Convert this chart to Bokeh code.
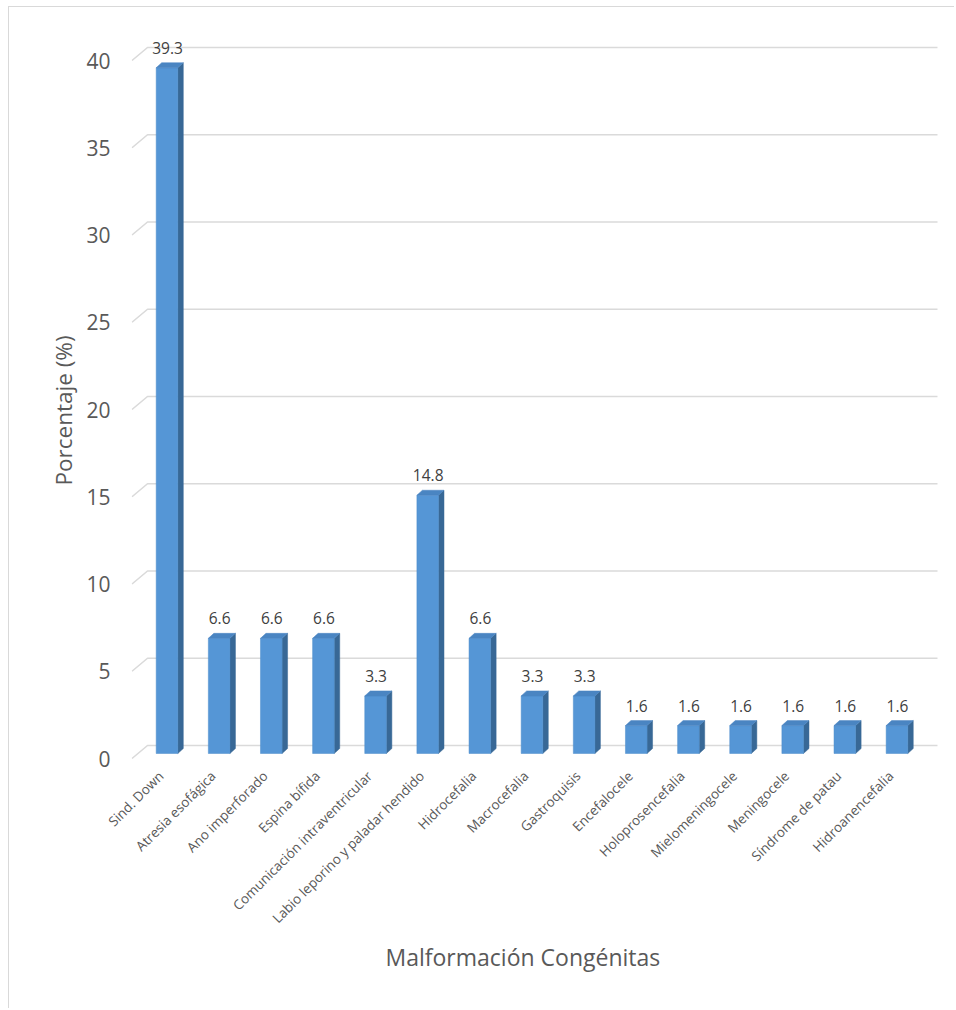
import math
from bokeh.plotting import figure
from bokeh.models import FixedTicker, Title, Range1d
from bokeh.embed import file_html
from bokeh.resources import INLINE
from bokeh.core.properties import value

# ---------------- data ----------------
categories = [
    "Sind. Down", "Atresia esofágica", "Ano imperforado", "Espina bífida",
    "Comunicación intraventricular", "Labio leporino y paladar hendido",
    "Hidrocefalia", "Macrocefalia", "Gastroquisis", "Encefalocele",
    "Holoprosencefalia", "Mielomeningocele", "Meningocele",
    "Síndrome de patau", "Hidroanencefalia",
]
values = [39.3, 6.6, 6.6, 6.6, 3.3, 14.8, 6.6, 3.3, 3.3, 1.6, 1.6, 1.6, 1.6, 1.6, 1.6]
y_ticks = [0, 5, 10, 15, 20, 25, 30, 35, 40]
x_title = "Malformación Congénitas"
y_title = "Porcentaje (%)"

# ---------------- layout (page pixels) ----------------
OX, OY = 9, 7            # figure offset (margin + border)
W, H = 946, 1002
FL, FR, FT, FB = 131, 945, 20, 770   # frame edges on page
X0, PXX = 166.5, 52.14   # page x of first category, px per category
Y0, PXY = 758.0, 17.45   # page y of value 0, px per unit

x_start = (FL - X0) / PXX
x_end = (FR - X0) / PXX
y_start = -(FB - Y0) / PXY
y_end = y_start + (FB - FT) / PXY

FONT = "Open Sans"
TXT = "#595959"

p = figure(
    width=W, height=H,
    x_range=Range1d(x_start, x_end), y_range=Range1d(y_start, y_end),
    output_backend="svg", toolbar_location=None,
    min_border_left=FL - OX, min_border_right=W - (FR - OX),
    min_border_top=FT - OY, min_border_bottom=H - (FB - OY),
    styles={"margin-left": "8px", "margin-top": "6px",
            "border-left": "1px solid #d9d9d9", "border-top": "1px solid #d9d9d9"},
)
p.outline_line_color = None
p.grid.visible = False
p.background_fill_color = "white"
p.border_fill_color = "white"

# ---------------- back-wall gridlines (3D) ----------------
dxg = 16 / PXX
dyg = 13 / PXY
x_back_end = (937 - X0) / PXX
p.multi_line(
    xs=[[x_start + 0.5 / PXX, x_start + dxg, x_back_end] for t in y_ticks],
    ys=[[t, t + dyg, t + dyg] for t in y_ticks],
    line_color="#dadada", line_width=1.6,
)

# ---------------- 3D bars ----------------
hw = 10.8 / PXX
base = 5 / PXY
ddx = 5.5 / PXX
ddy = 5 / PXY
idx = list(range(len(categories)))

side_xs, side_ys, top_xs, top_ys = [], [], [], []
for i, v in zip(idx, values):
    side_xs.append([i + hw, i + hw + ddx, i + hw + ddx, i + hw])
    side_ys.append([base, base + ddy, v + base + ddy, v + base])
    top_xs.append([i - hw, i - hw + ddx, i + hw + ddx, i + hw])
    top_ys.append([v + base, v + base + ddy, v + base + ddy, v + base])

p.patches(side_xs, side_ys, fill_color="#386896", line_color="#386896", line_width=0.5)
p.quad(left=[i - hw for i in idx], right=[i + hw for i in idx],
       bottom=[base] * len(idx), top=[v + base for v in values],
       fill_color="#5596d6", line_color="#4d8cca", line_width=0.5)
p.patches(top_xs, top_ys, fill_color="#4a85c2", line_color="#4a85c2", line_width=0.5)

# ---------------- data labels ----------------
p.text(x=[i + 0.5 / PXX for i in idx], y=[v + base + ddy for v in values],
       text=[f"{v:.1f}" for v in values],
       text_align="center", text_baseline="bottom", y_offset=-9,
       text_font=value(FONT), text_font_size="15.5px", text_color="#404040")

# ---------------- axes ----------------
# category ticks sit slightly left of the bar centres (label anchor)
tick_pos = [i - 6 / PXX for i in idx]
p.xaxis.ticker = FixedTicker(ticks=tick_pos)
p.xaxis.major_label_overrides = {t: c for t, c in zip(tick_pos, categories)}
p.xaxis.major_label_orientation = math.pi / 4
p.xaxis.major_label_text_font = FONT
p.xaxis.major_label_text_font_size = "13.5px"
p.xaxis.major_label_text_color = TXT
p.xaxis.major_label_standoff = -3

p.yaxis.ticker = FixedTicker(ticks=y_ticks)
p.yaxis.major_label_text_font = FONT
p.yaxis.major_label_text_font_size = "21px"
p.yaxis.major_label_text_color = TXT
p.yaxis.major_label_standoff = 15

for ax in (p.xaxis, p.yaxis):
    ax.axis_line_color = None
    ax.major_tick_line_color = None
    ax.minor_tick_line_color = None

p.add_layout(Title(text=x_title, align="left", offset=254, standoff=4,
                   text_font=FONT, text_font_size="23px", text_font_style="normal",
                   text_color=TXT), "below")
p.add_layout(Title(text=y_title, align="left", offset=285, standoff=10,
                   text_font=FONT, text_font_size="22.5px", text_font_style="normal",
                   text_color=TXT), "left")

open("out.html", "w").write(file_html(p, INLINE))
